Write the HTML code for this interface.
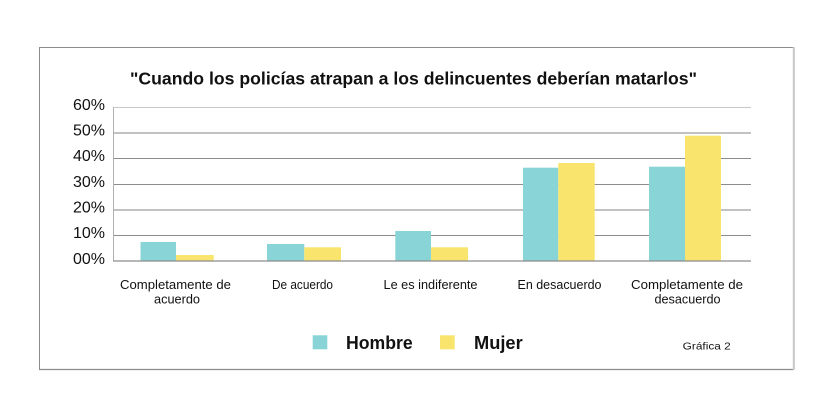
<!DOCTYPE html>
<html>
<head>
<meta charset="utf-8">
<style>
  html, body { margin: 0; padding: 0; background: #ffffff; }
  svg { display: block; }
  text { font-family: "Liberation Sans", "DejaVu Sans", sans-serif; fill: #111; }
</style>
</head>
<body>
<svg width="834" height="417" viewBox="0 0 834 417" xmlns="http://www.w3.org/2000/svg">
  <rect x="0" y="0" width="834" height="417" fill="#ffffff"/>
  <!-- frame -->
  <line x1="39.5" y1="47.5" x2="794" y2="47.5" stroke="#8c8c8c" stroke-width="1"/>
  <line x1="39.5" y1="47" x2="39.5" y2="369.5" stroke="#8c8c8c" stroke-width="1"/>
  <line x1="39" y1="369.5" x2="794" y2="369.5" stroke="#8c8c8c" stroke-width="1.2"/>
  <line x1="793.8" y1="47" x2="793.8" y2="370" stroke="#c8c8c8" stroke-width="2"/>

  <!-- title -->
  <text x="130" y="84.5" font-size="17.5" font-weight="bold" textLength="567" lengthAdjust="spacingAndGlyphs">"Cuando los policías atrapan a los delincuentes deberían matarlos"</text>

  <!-- gridlines -->
  <line x1="113" y1="107.5" x2="751" y2="107.5" stroke="#c8c8c8" stroke-width="1"/>
  <line x1="113" y1="133" x2="751" y2="133" stroke="#c2c2c2" stroke-width="2"/>
  <line x1="113" y1="158.5" x2="751" y2="158.5" stroke="#8c8c8c" stroke-width="1"/>
  <line x1="113" y1="184.5" x2="751" y2="184.5" stroke="#8c8c8c" stroke-width="1"/>
  <line x1="113" y1="210" x2="751" y2="210" stroke="#c2c2c2" stroke-width="2"/>
  <line x1="113" y1="235.5" x2="751" y2="235.5" stroke="#8c8c8c" stroke-width="1"/>
  <line x1="113.5" y1="107" x2="113.5" y2="261" stroke="#b0b0b0" stroke-width="1"/>

  <!-- y labels -->
  <g font-size="16" text-anchor="end">
    <text x="105" y="110">60%</text>
    <text x="105" y="135.5">50%</text>
    <text x="105" y="161">40%</text>
    <text x="105" y="187">30%</text>
    <text x="105" y="212.5">20%</text>
    <text x="105" y="238">10%</text>
    <text x="105" y="264">00%</text>
  </g>

  <!-- bars: Hombre teal, Mujer yellow -->
  <g fill="#88d4d6">
    <rect x="140.5" y="242" width="35.5" height="19"/>
    <rect x="267" y="244" width="37.3" height="17"/>
    <rect x="395.3" y="231" width="35.7" height="30"/>
    <rect x="523" y="167.7" width="35.3" height="93.3"/>
    <rect x="649" y="166.7" width="36" height="94.3"/>
  </g>
  <g fill="#f9e56d">
    <rect x="176" y="255" width="37.7" height="6"/>
    <rect x="304.3" y="247.3" width="36.7" height="13.7"/>
    <rect x="431" y="247.3" width="37" height="13.7"/>
    <rect x="558.3" y="163" width="36.4" height="98"/>
    <rect x="685" y="135.7" width="36" height="125.3"/>
  </g>
  <!-- baseline -->
  <line x1="113" y1="261" x2="751" y2="261" stroke="#8c8c8c" stroke-width="1.2"/>

  <!-- category labels -->
  <g font-size="12.5">
    <text x="120" y="289" textLength="111" lengthAdjust="spacingAndGlyphs">Completamente de</text>
    <text x="154" y="303.5" textLength="46" lengthAdjust="spacingAndGlyphs">acuerdo</text>
    <text x="272" y="289" textLength="61" lengthAdjust="spacingAndGlyphs">De acuerdo</text>
    <text x="383.5" y="289" textLength="94" lengthAdjust="spacingAndGlyphs">Le es indiferente</text>
    <text x="517.5" y="289" textLength="84" lengthAdjust="spacingAndGlyphs">En desacuerdo</text>
    <text x="631" y="289" textLength="112" lengthAdjust="spacingAndGlyphs">Completamente de</text>
    <text x="654.5" y="303.5" textLength="66" lengthAdjust="spacingAndGlyphs">desacuerdo</text>
  </g>

  <!-- legend -->
  <rect x="312.7" y="335.3" width="14.6" height="14" fill="#88d4d6"/>
  <text x="346" y="349" font-size="18" font-weight="bold" textLength="66.7" lengthAdjust="spacingAndGlyphs">Hombre</text>
  <rect x="440" y="335.3" width="14.7" height="14" fill="#f9e56d"/>
  <text x="474" y="349" font-size="18" font-weight="bold" textLength="48.7" lengthAdjust="spacingAndGlyphs">Mujer</text>

  <text x="682.7" y="349.3" font-size="10.5" textLength="48" lengthAdjust="spacingAndGlyphs">Gráfica 2</text>
</svg>
</body>
</html>
